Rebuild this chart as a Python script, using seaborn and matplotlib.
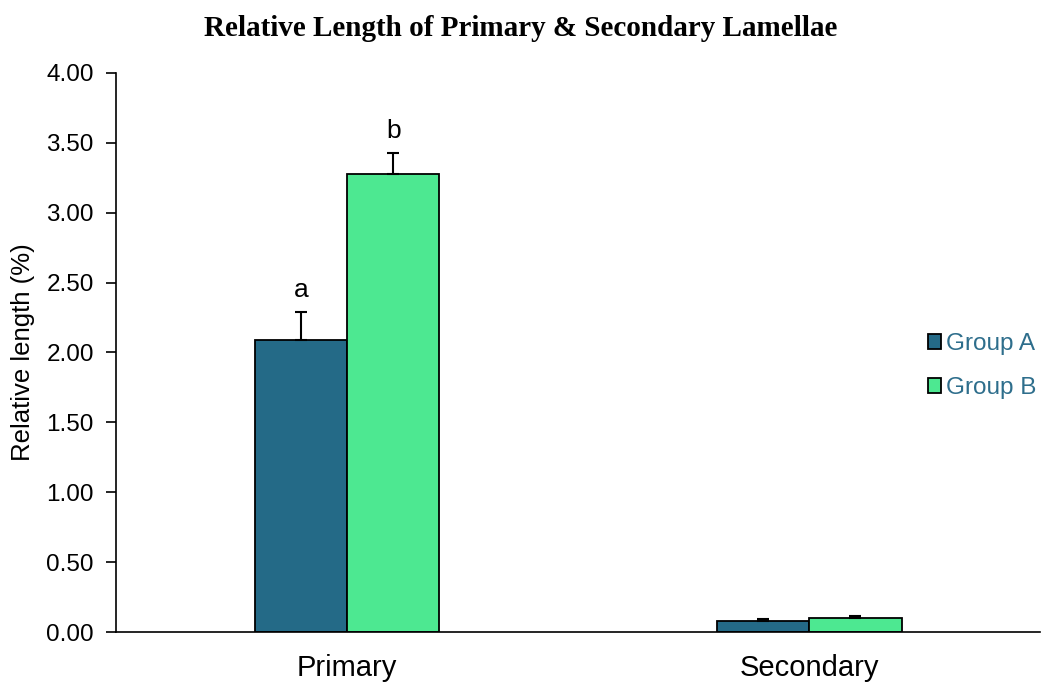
import pandas as pd
import matplotlib.pyplot as plt
import seaborn as sns

# values
categories = ["Primary", "Secondary"]
groups = ["Group A", "Group B"]
group_a = [2.09, 0.08]
group_b = [3.28, 0.10]
err_a = [0.20, 0.012]
err_b = [0.15, 0.015]
letters_a = ["a", ""]
letters_b = ["b", ""]

colors = ["#246A87", "#4DE891"]

df = pd.DataFrame({
    "category": categories * 2,
    "group": [groups[0]] * 2 + [groups[1]] * 2,
    "value": group_a + group_b,
})

sns.set_style("ticks")
plt.rcParams["font.family"] = ["Liberation Sans", "DejaVu Sans"]
plt.rcParams.update({"text.color": "black", "axes.labelcolor": "black",
                     "xtick.color": "black", "ytick.color": "black"})

fig = plt.figure(figsize=(10.42, 6.86), dpi=100)
ax = fig.add_axes([0.1113, 0.0787, 0.887, 0.815])

sns.barplot(data=df, x="category", y="value", hue="group", palette=colors,
            width=0.4, errorbar=None, edgecolor="black", linewidth=1.3,
            saturation=1, ax=ax)

# one-sided error bars and significance letters on top of each bar
for cont, errs, letters in zip(ax.containers, [err_a, err_b], [letters_a, letters_b]):
    for bar, e, lab in zip(cont, errs, letters):
        x = bar.get_x() + bar.get_width() / 2
        h = bar.get_height()
        ax.errorbar(x, h, yerr=[[0], [e]], fmt="none", ecolor="black",
                    elinewidth=1.5, capsize=4.5, capthick=1.5)
        if lab:
            ax.text(x, h + e + 0.07, lab, ha="center", va="bottom", fontsize=19)

ax.set_ylim(0, 4)
ax.set_yticks([i * 0.5 for i in range(9)])
ax.set_yticklabels([f"{i * 0.5:.2f}" for i in range(9)], fontsize=17.5)
ax.set_xlim(-0.5, 1.5)
ax.tick_params(axis="x", length=0, labelsize=21, pad=16)
ax.tick_params(axis="y", length=7, width=1.2, direction="out", pad=9)
ax.set_xlabel("")
ax.set_ylabel("Relative length (%)", fontsize=18.5, labelpad=8)
for s in ["top", "right"]:
    ax.spines[s].set_visible(False)
for s in ["left", "bottom"]:
    ax.spines[s].set_linewidth(1.2)
    ax.spines[s].set_color("black")

leg = ax.legend(loc="center left", bbox_to_anchor=(0.855, 0.476), frameon=False,
                fontsize=17.5, handlelength=0.55, handleheight=0.55,
                handletextpad=0.2, labelspacing=0.9)
for t in leg.get_texts():
    t.set_color("#2E6E8C")

fig.text(0.5, 0.958, "Relative Length of Primary & Secondary Lamellae",
         ha="center", va="center", fontsize=21, fontweight="bold",
         family="Liberation Serif")

fig.savefig("out.png", dpi=100)
